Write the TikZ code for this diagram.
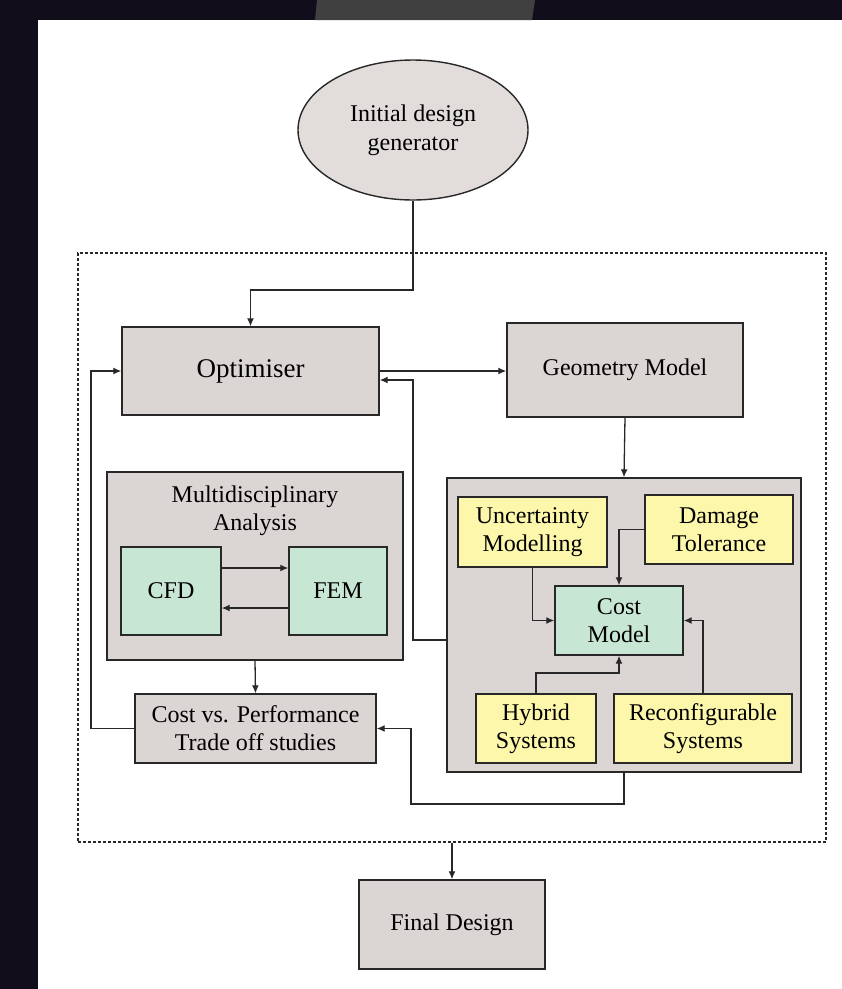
\documentclass[tikz,border=0pt]{standalone}
\usepackage{fontspec}
\setmainfont{Liberation Serif}
\usetikzlibrary{arrows.meta,shapes.geometric}
\definecolor{bgdark}{RGB}{17,13,26}
\definecolor{trap}{RGB}{64,64,64}
\definecolor{boxgrey}{RGB}{219,213,211}
\definecolor{ellgrey}{RGB}{226,221,218}
\definecolor{boxgreen}{RGB}{200,230,212}
\definecolor{boxyellow}{RGB}{252,247,170}
\definecolor{linecol}{RGB}{40,40,40}
\tikzset{
  x=1pt,y=-1pt,
  box/.style={draw=linecol, line width=1.4pt, fill=boxgrey, align=center, inner sep=0pt,
    font=\fontsize{24}{28}\selectfont, text=black},
  gbox/.style={box, fill=boxgreen},
  ybox/.style={box, fill=boxyellow},
  arr/.style={draw=linecol, line width=1.3pt, -{Latex[length=8pt,width=7pt]}},
  dashbox/.style={draw=linecol, line width=1.2pt, dash pattern=on 3pt off 2pt, inner sep=0pt},
  txt/.style={align=center, font=\fontsize{24}{28}\selectfont, text=black, inner sep=0pt}
}
\begin{document}
\begin{tikzpicture}
\useasboundingbox (0,0) rectangle (842,989);
\fill[bgdark] (0,0) rectangle (842,989);
\fill[white] (38,20) rectangle (842,989);
\fill[trap] (317,0) -- (535,0) -- (532,20) -- (315,20) -- cycle;

% dashed loop
\node[dashbox, minimum width=748pt, minimum height=589pt] (loop) at (452,547.5) {};

% nodes
\node[ellipse, draw=linecol, line width=1.4pt, fill=ellgrey, minimum width=230pt, minimum height=140pt,
  align=center, inner sep=0pt, font=\fontsize{24}{29}\selectfont, text=black] (ell) at (413,130) {Initial design\\generator};
\node[box, minimum width=257pt, minimum height=88pt, font=\fontsize{27}{30}\selectfont] (opt) at (250.5,371) {Optimiser};
\node[box, minimum width=236pt, minimum height=94pt] (geo) at (625,370) {Geometry Model};
\node[box, minimum width=296pt, minimum height=188pt] (multi) at (255,566) {};
\node[txt] (multit) at (255,511) {Multidisciplinary\\Analysis};
\node[gbox, minimum width=100pt, minimum height=88pt] (cfd) at (171,591) {CFD};
\node[gbox, minimum width=98pt, minimum height=88pt] (fem) at (338,591) {FEM};
\node[box, minimum width=241pt, minimum height=69pt] (cvp) at (255.5,728.5) {Cost vs. Performance\\Trade off studies};
\node[box, minimum width=354pt, minimum height=294pt] (cost) at (624,625) {};
\node[ybox, minimum width=149pt, minimum height=70pt] (unc) at (532.5,532) {Uncertainty\\Modelling};
\node[ybox, minimum width=148pt, minimum height=69pt] (dam) at (719,529.5) {Damage\\Tolerance};
\node[gbox, minimum width=128pt, minimum height=69pt] (cm) at (619,620.5) {Cost\\Model};
\node[ybox, minimum width=120pt, minimum height=69pt] (hyb) at (536,728.5) {Hybrid\\Systems};
\node[ybox, minimum width=178pt, minimum height=69pt] (rec) at (703,728.5) {Reconfigurable\\Systems};
\node[box, minimum width=186pt, minimum height=89pt] (fin) at (452,924.5) {Final Design};

% connectors
\draw[arr] (ell.south) -- (ell.south |- 0,290) -- (opt.north |- 0,290) -- (opt.north);
\draw[arr] (opt.east) -- (geo.west |- opt.east);
\draw[arr] (geo.south) -- (cost.north);
\draw[arr] (cost.west |- 0,640) -- (413,640) -- (413,380) -- (opt.east |- 0,380);
\draw[arr] (cfd.east |- 0,568) -- (fem.west |- 0,568);
\draw[arr] (fem.west |- 0,608) -- (cfd.east |- 0,608);
\draw[arr] (multi.south) -- (cvp.north);
\draw[arr] (cvp.west) -- (91,728.5) -- (91,371) -- (opt.west);
\draw[arr] (cost.south) -- (cost.south |- 0,804) -- (411,804) -- (411,728.5) -- (cvp.east);
\draw[arr] (unc.south) -- (unc.south |- cm.west) -- (cm.west);
\draw[arr] (dam.west) -- (cm.north |- dam.west) -- (cm.north);
\draw[arr] (hyb.north) -- (hyb.north |- 0,673) -- (cm.south |- 0,673) -- (cm.south);
\draw[arr] (rec.north) -- (rec.north |- cm.east) -- (cm.east);
\draw[arr] (loop.south) -- (fin.north);
\end{tikzpicture}
\end{document}
